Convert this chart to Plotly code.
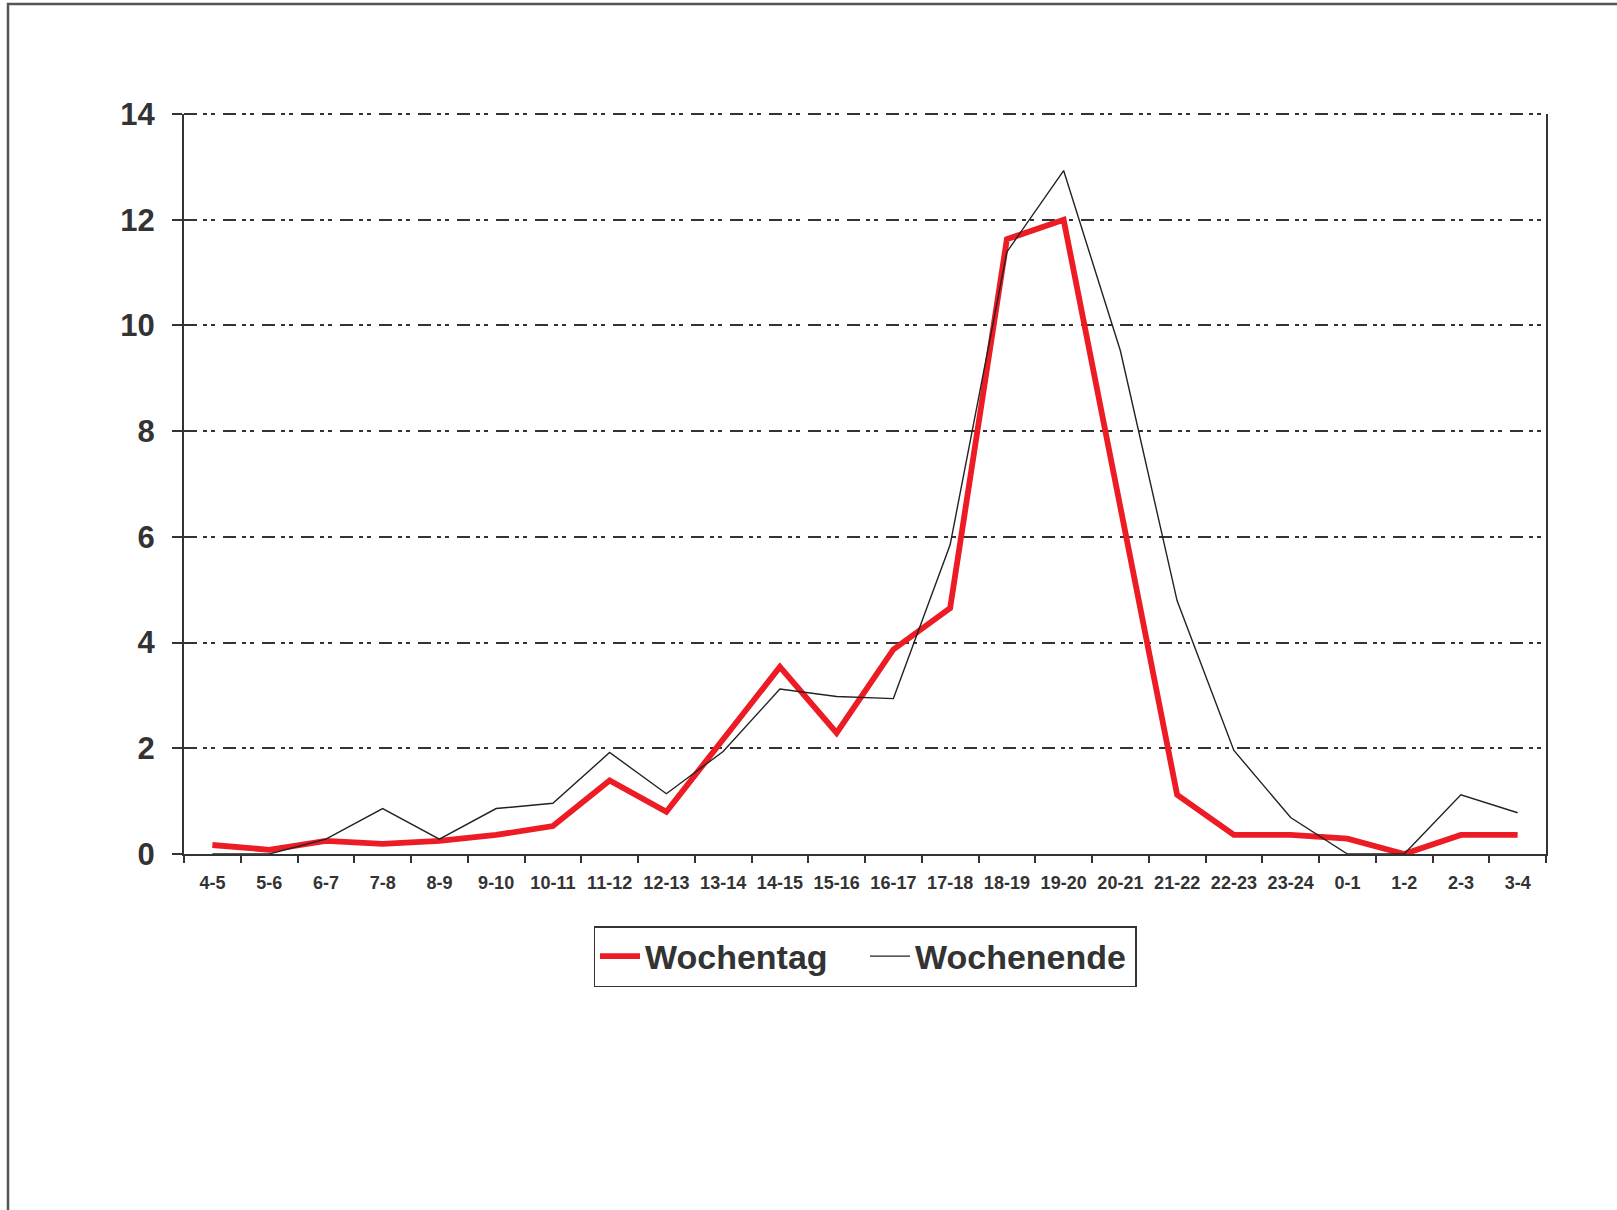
import plotly.graph_objects as go

categories = ["4-5", "5-6", "6-7", "7-8", "8-9", "9-10", "10-11", "11-12", "12-13",
              "13-14", "14-15", "15-16", "16-17", "17-18", "18-19", "19-20", "20-21",
              "21-22", "22-23", "23-24", "0-1", "1-2", "2-3", "3-4"]

wochentag = [0.17, 0.08, 0.25, 0.19, 0.25, 0.36, 0.53, 1.39, 0.80,
             2.16, 3.54, 2.29, 3.87, 4.65, 11.63, 12.0, 6.6,
             1.12, 0.36, 0.36, 0.29, 0.0, 0.36, 0.36]

wochenende = [0.0, 0.0, 0.28, 0.86, 0.28, 0.86, 0.96, 1.92, 1.14,
              1.94, 3.12, 2.98, 2.94, 5.85, 11.39, 12.93, 9.52,
              4.79, 1.96, 0.69, 0.0, 0.0, 1.12, 0.78]

y_ticks = [0, 2, 4, 6, 8, 10, 12, 14]

W, H = 1617, 1210
L, R, T, B = 184, 1546, 114, 854
pw, ph = R - L, B - T

FONT = "Liberation Sans, Arial, Helvetica, sans-serif"
TXT = "#333333"
DASH = "13px,6px,4px,4px,4px,8px"

fig = go.Figure()
fig.add_trace(go.Scatter(x=categories, y=wochentag, mode="lines", name="Wochentag",
                         line=dict(color="#ED1C24", width=5.8)))
fig.add_trace(go.Scatter(x=categories, y=wochenende, mode="lines", name="Wochenende",
                         line=dict(color="#222222", width=1.4)))

fig.update_layout(
    width=W, height=H,
    margin=dict(l=L, r=W - R, t=T, b=H - B, pad=0),
    paper_bgcolor="white", plot_bgcolor="white",
    font=dict(family=FONT, color=TXT),
    showlegend=True,
    legend=dict(orientation="h", x=0.5, xanchor="center",
                y=(B - 926) / ph, yanchor="top",
                bordercolor="#333333", borderwidth=1.5,
                font=dict(size=34, weight="bold", color=TXT),
                itemwidth=40, entrywidth=215, tracegroupgap=0),
    xaxis=dict(type="category", range=[-0.5, len(categories) - 0.5],
               tickson="boundaries", ticks="outside", ticklen=7,
               tickwidth=1.5, tickcolor="#333333", tickangle=0,
               showline=True, linecolor="#333333", linewidth=2,
               showgrid=False, zeroline=False,
               tickfont=dict(size=18, weight="bold", color=TXT),
               ticklabelstandoff=11),
    yaxis=dict(range=[0, 14], tickvals=y_ticks, ticks="outside", ticklen=10,
               tickwidth=1.5, tickcolor="#333333",
               showline=True, mirror=True, linecolor="#333333", linewidth=2,
               showgrid=True, gridcolor="#333333", gridwidth=2,
               griddash=DASH, zeroline=False,
               tickfont=dict(size=31, weight="bold", color=TXT),
               ticklabelstandoff=11),
)

# top gridline (y = 14) at the upper edge of the plot area
fig.add_shape(type="line", xref="paper", yref="paper", x0=0, x1=1, y0=1, y1=1,
              line=dict(color="#333333", width=2, dash=DASH))

# outer frame of the chart area
fig.add_shape(type="rect", xref="paper", yref="paper",
              x0=(8 - L) / pw, x1=(W + 20 - L) / pw,
              y0=(B - (H + 20)) / ph, y1=(B - 4) / ph,
              line=dict(color="#555555", width=2.5), fillcolor="rgba(0,0,0,0)",
              layer="below")

fig.write_html("out.html", config={"displayModeBar": False},
               post_script="document.body.style.margin='0px';document.body.style.overflow='hidden';")
